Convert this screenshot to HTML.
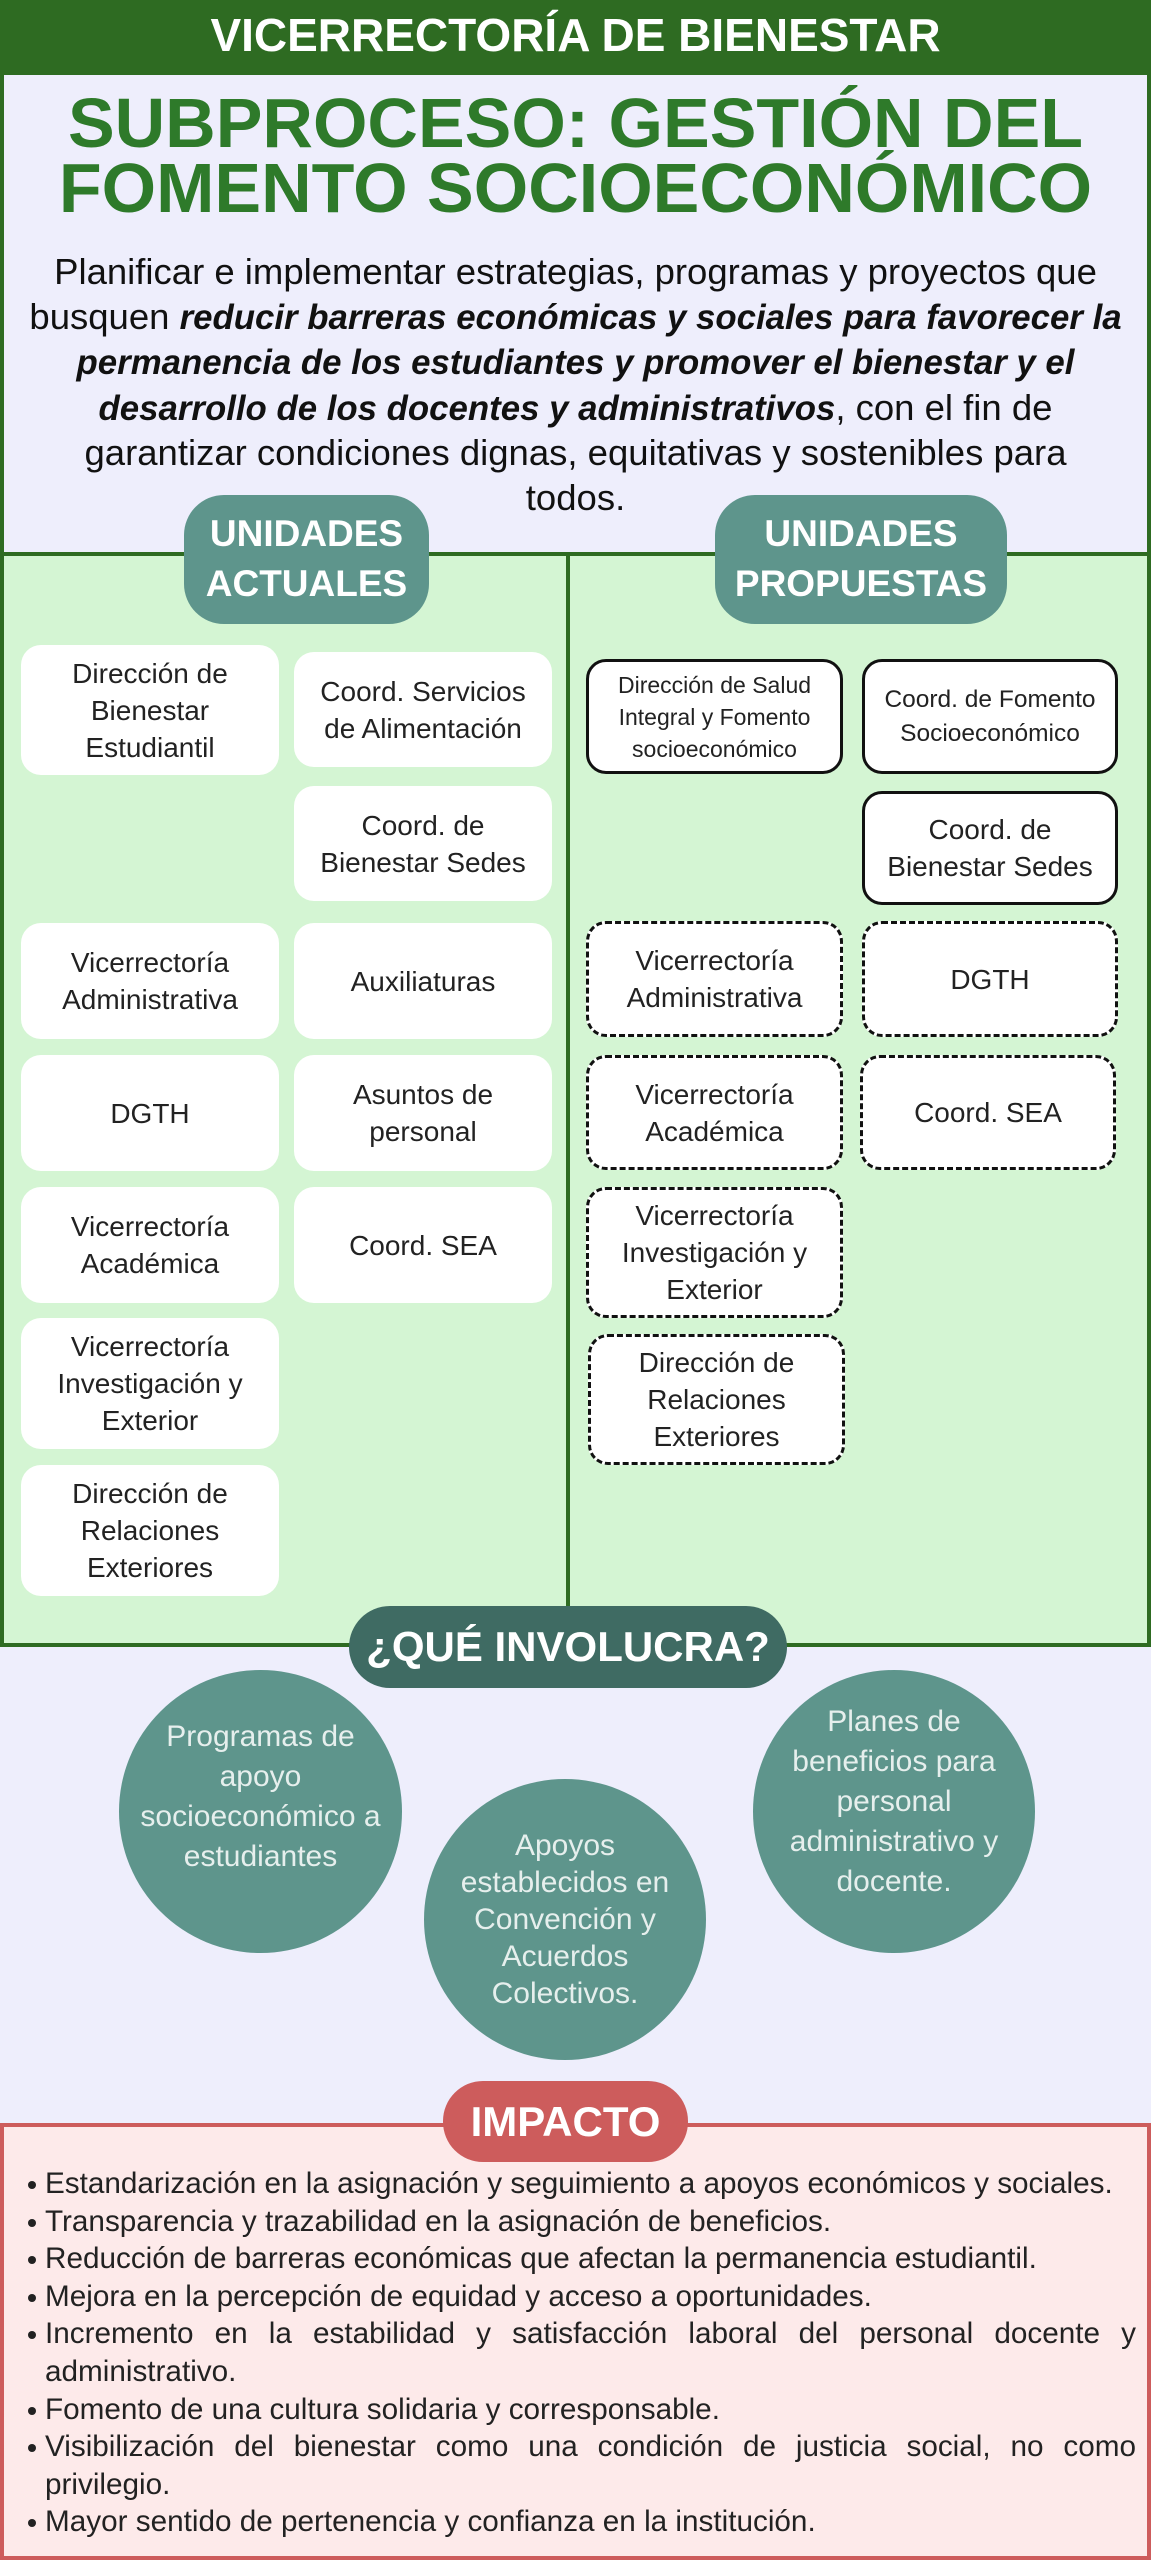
<!DOCTYPE html>
<html><head><meta charset="utf-8"><style>
*{margin:0;padding:0;box-sizing:border-box}
body{width:1151px;height:2560px;position:relative;background:#eeeefc;font-family:"Liberation Sans",sans-serif;overflow:hidden}
.a{position:absolute}
.hdr{left:0;top:0;width:1151px;height:73px;background:#2e6b22;color:#fff;font-weight:bold;font-size:46px;text-align:center;line-height:70px}
.top{left:0;top:71px;width:1151px;height:484px;border:4px solid #2e6b22;border-bottom:none;background:#eeeefc}
.title{left:0;width:1151px;text-align:center;color:#2e7a2a;font-weight:bold;font-size:70px;white-space:nowrap}
.para{left:0;top:250px;width:1151px;text-align:center;font-size:36.5px;line-height:44.5px;color:#111;white-space:nowrap}
.para b{font-size:34.8px}
.green{left:0;top:552px;width:1151px;height:1095px;background:#d4f5d3;border:4px solid #2e6b22}
.div{left:566px;top:552px;width:4px;height:1094px;background:#2e6b22}
.pill{background:#5e958c;color:#fff;font-weight:bold;text-align:center;border-radius:40px;font-size:37px;line-height:50px;padding-top:14px}
.b{background:#fff;border-radius:20px;display:flex;align-items:center;justify-content:center;text-align:center;font-size:28px;line-height:37px;color:#222}
.s{border:3px solid #111}
.d{border:3px dashed #111}
.c{background:#5e958c;border-radius:50%;color:#e6efed;display:flex;align-items:center;justify-content:center;text-align:center;font-size:30px;line-height:39px;white-space:nowrap}
.imp{left:0;top:2123px;width:1151px;height:437px;background:#fdeaea;border:4px solid #cd5c5c}
ul{position:absolute;left:45px;top:2165px;width:1091px;font-size:29.7px;line-height:37.6px;color:#222;text-align:justify;list-style:none}
li{position:relative}
li:before{content:"";position:absolute;left:-17px;top:16px;width:8px;height:8px;border-radius:50%;background:#222}
</style></head><body>
<div class="a hdr">VICERRECTORÍA DE BIENESTAR</div>
<div class="a top"></div>
<div class="a title" style="top:88px;line-height:70px">SUBPROCESO: GESTIÓN DEL</div>
<div class="a title" style="top:153px;line-height:70px">FOMENTO SOCIOECONÓMICO</div>
<div class="a para">Planificar e implementar estrategias, programas y proyectos que<br>busquen <b><i>reducir barreras económicas y sociales para favorecer la</i></b><br><b><i>permanencia de los estudiantes y promover el bienestar y el</i></b><br><b><i>desarrollo de los docentes y administrativos</i></b>, con el fin de<br>garantizar condiciones dignas, equitativas y sostenibles para<br>todos.</div>
<div class="a green"></div>
<div class="a div"></div>
<div class="a pill" style="left:184px;top:495px;width:245px;height:129px">UNIDADES<br>ACTUALES</div>
<div class="a pill" style="left:715px;top:495px;width:292px;height:129px">UNIDADES<br>PROPUESTAS</div>

<div class="a b" style="left:21px;top:645px;width:258px;height:130px">Dirección de<br>Bienestar<br>Estudiantil</div>
<div class="a b" style="left:294px;top:652px;width:258px;height:115px">Coord. Servicios<br>de Alimentación</div>
<div class="a b" style="left:294px;top:786px;width:258px;height:115px">Coord. de<br>Bienestar Sedes</div>
<div class="a b" style="left:21px;top:923px;width:258px;height:116px">Vicerrectoría<br>Administrativa</div>
<div class="a b" style="left:294px;top:923px;width:258px;height:116px">Auxiliaturas</div>
<div class="a b" style="left:21px;top:1055px;width:258px;height:116px">DGTH</div>
<div class="a b" style="left:294px;top:1055px;width:258px;height:116px">Asuntos de<br>personal</div>
<div class="a b" style="left:21px;top:1187px;width:258px;height:116px">Vicerrectoría<br>Académica</div>
<div class="a b" style="left:294px;top:1187px;width:258px;height:116px">Coord. SEA</div>
<div class="a b" style="left:21px;top:1318px;width:258px;height:131px">Vicerrectoría<br>Investigación y<br>Exterior</div>
<div class="a b" style="left:21px;top:1465px;width:258px;height:131px">Dirección de<br>Relaciones<br>Exteriores</div>

<div class="a b s" style="left:586px;top:659px;width:257px;height:115px;font-size:23px;line-height:32px">Dirección de Salud<br>Integral y Fomento<br>socioeconómico</div>
<div class="a b s" style="left:862px;top:659px;width:256px;height:115px;font-size:24.5px;line-height:34px">Coord. de Fomento<br>Socioeconómico</div>
<div class="a b s" style="left:862px;top:791px;width:256px;height:114px">Coord. de<br>Bienestar Sedes</div>
<div class="a b d" style="left:586px;top:921px;width:257px;height:116px">Vicerrectoría<br>Administrativa</div>
<div class="a b d" style="left:862px;top:921px;width:256px;height:116px">DGTH</div>
<div class="a b d" style="left:586px;top:1055px;width:257px;height:115px">Vicerrectoría<br>Académica</div>
<div class="a b d" style="left:860px;top:1055px;width:256px;height:115px">Coord. SEA</div>
<div class="a b d" style="left:586px;top:1187px;width:257px;height:131px">Vicerrectoría<br>Investigación y<br>Exterior</div>
<div class="a b d" style="left:588px;top:1334px;width:257px;height:131px">Dirección de<br>Relaciones<br>Exteriores</div>

<div class="a" style="left:349px;top:1606px;width:438px;height:82px;background:#3f6b63;border-radius:41px;color:#fff;font-weight:bold;font-size:42px;line-height:82px;text-align:center">¿QUÉ INVOLUCRA?</div>

<div class="a c" style="left:119px;top:1670px;width:283px;height:283px;padding-bottom:30px;line-height:40px">Programas de<br>apoyo<br>socioeconómico a<br>estudiantes</div>
<div class="a c" style="left:424px;top:1779px;width:282px;height:281px;line-height:37px">Apoyos<br>establecidos en<br>Convención y<br>Acuerdos<br>Colectivos.</div>
<div class="a c" style="left:753px;top:1670px;width:282px;height:283px;padding-bottom:20px;line-height:40px">Planes de<br>beneficios para<br>personal<br>administrativo y<br>docente.</div>

<div class="a imp"></div>
<div class="a" style="left:443px;top:2081px;width:245px;height:81px;background:#cd5c5c;border-radius:40px;color:#fff;font-weight:bold;font-size:42px;line-height:81px;text-align:center">IMPACTO</div>
<ul>
<li>Estandarización en la asignación y seguimiento a apoyos económicos y sociales.</li>
<li>Transparencia y trazabilidad en la asignación de beneficios.</li>
<li>Reducción de barreras económicas que afectan la permanencia estudiantil.</li>
<li>Mejora en la percepción de equidad y acceso a oportunidades.</li>
<li>Incremento en la estabilidad y satisfacción laboral del personal docente y administrativo.</li>
<li>Fomento de una cultura solidaria y corresponsable.</li>
<li>Visibilización del bienestar como una condición de justicia social, no como privilegio.</li>
<li>Mayor sentido de pertenencia y confianza en la institución.</li>
</ul>
</body></html>
